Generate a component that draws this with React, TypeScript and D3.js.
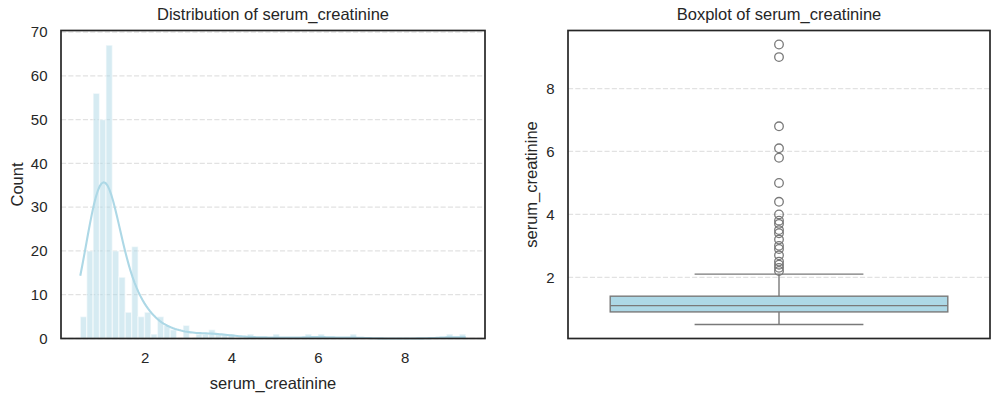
import React from 'react';
import * as d3 from 'd3';

// serum_creatinine observations (value, how many times it occurs)
const creatinineValues = [0.5, 0.6, 0.7, 0.75, 0.8, 0.9, 1.0, 1.1, 1.18, 1.2, 1.3, 1.4, 1.5, 1.6, 1.7, 1.8, 1.83, 1.9,
  2.0, 2.1, 2.2, 2.3, 2.4, 2.5, 2.7, 2.9, 3.0, 3.2, 3.4, 3.5, 3.7, 3.8, 4.0, 4.4, 5.0, 5.8, 6.1, 6.8, 9.0, 9.4];
const creatinineCounts = [1, 4, 19, 1, 24, 32, 50, 32, 11, 24, 20, 9, 5, 6, 9, 8, 4, 5,
  3, 3, 1, 3, 2, 3, 2, 2, 1, 1, 1, 2, 1, 1, 1, 1, 1, 1, 1, 1, 1, 1];

const binCount = 60;
const histXTicks = [2, 4, 6, 8];
const histYTicks = [0, 10, 20, 30, 40, 50, 60, 70];
const boxYTicks = [2, 4, 6, 8];

const W = 1000, H = 396;
const top = 30.5, bottom = 338.5;
const left1 = 61, right1 = 485;
const left2 = 568, right2 = 990;
const ink = '#262626';
const font = '"Liberation Sans", Arial, sans-serif';
const blue = '#add8e6';
const gray = '#797979';
const gridColor = '#e2e2e2';

export default function App() {
  const obs = creatinineValues.flatMap((v, i) => Array(creatinineCounts[i]).fill(v)).sort(d3.ascending);
  const n = obs.length;
  const [vmin, vmax] = d3.extent(obs) as [number, number];
  const pad = (vmax - vmin) * 0.05;
  const binW = (vmax - vmin) / binCount;

  // histogram bins (numpy style, last bin closed)
  const bins = d3.range(binCount).map(i => ({ x0: vmin + i * binW, x1: vmin + (i + 1) * binW, count: 0 }));
  obs.forEach(v => {
    const i = Math.min(binCount - 1, Math.floor((v - vmin) / binW + 1e-9));
    bins[i].count += 1;
  });
  const maxCount = d3.max(bins, b => b.count) as number;

  const x1 = d3.scaleLinear().domain([vmin - pad, vmax + pad]).range([left1, right1]);
  const y1 = d3.scaleLinear().domain([0, maxCount * 1.05]).range([bottom, top]);

  // gaussian kde, scott bandwidth, scaled to counts
  const sd = d3.deviation(obs) as number;
  const bw = sd * Math.pow(n, -0.2);
  const grid = d3.range(200).map(i => vmin + (vmax - vmin) * i / 199);
  const kde = grid.map(x => {
    let s = 0;
    creatinineValues.forEach((v, i) => {
      const z = (x - v) / bw;
      s += creatinineCounts[i] * Math.exp(-0.5 * z * z);
    });
    return [x, s / (n * bw * Math.sqrt(2 * Math.PI)) * n * binW] as [number, number];
  });
  const kdeLine = d3.line<[number, number]>().x(d => x1(d[0])).y(d => y1(d[1]));

  // box stats
  const q1 = d3.quantile(obs, 0.25) as number;
  const med = d3.quantile(obs, 0.5) as number;
  const q3 = d3.quantile(obs, 0.75) as number;
  const iqr = q3 - q1;
  const wLo = d3.min(obs.filter(v => v >= q1 - 1.5 * iqr)) as number;
  const wHi = d3.max(obs.filter(v => v <= q3 + 1.5 * iqr)) as number;
  const fliers = creatinineValues.filter(v => v < wLo || v > wHi);

  const x2 = d3.scaleLinear().domain([-0.5, 0.5]).range([left2, right2]);
  const y2 = d3.scaleLinear().domain([vmin - pad, vmax + pad]).range([bottom, top]);

  return (
    <svg width={W} height={H} style={{ position: 'absolute', left: 0, top: 0, background: '#fff' }}
      fontFamily={font} fill={ink}>
      {/* ---- histogram ---- */}
      {histYTicks.map(t => (
        <line key={'g' + t} x1={left1} x2={right1} y1={y1(t)} y2={y1(t)} stroke={gridColor}
          strokeWidth={1.3} strokeDasharray="5.1,2.2" />
      ))}
      {bins.filter(b => b.count > 0).map((b, i) => (
        <rect key={i} x={x1(b.x0)} width={x1(b.x1) - x1(b.x0)} y={y1(b.count)} height={y1(0) - y1(b.count)}
          fill={blue} fillOpacity={0.5} stroke="#fff" strokeOpacity={0.5} strokeWidth={1.4} />
      ))}
      <path d={kdeLine(kde) as string} fill="none" stroke={blue} strokeWidth={2.1} />
      <rect x={left1} y={top} width={right1 - left1} height={bottom - top} fill="none" stroke={ink} strokeWidth={1.7} />
      {histYTicks.map(t => (
        <text key={'y' + t} x={left1 - 13.5} y={y1(t)} dy="0.35em" textAnchor="end" fontSize={15}>{t}</text>
      ))}
      {histXTicks.map(t => (
        <text key={'x' + t} x={x1(t)} y={363} textAnchor="middle" fontSize={15}>{t}</text>
      ))}
      <text x={(left1 + right1) / 2} y={20} textAnchor="middle" fontSize={16.5}>Distribution of serum_creatinine</text>
      <text x={(left1 + right1) / 2} y={389} textAnchor="middle" fontSize={16.5}>serum_creatinine</text>
      <text transform={`translate(23,${(top + bottom) / 2}) rotate(-90)`} textAnchor="middle" fontSize={16.5}>Count</text>

      {/* ---- boxplot ---- */}
      {boxYTicks.map(t => (
        <line key={'bg' + t} x1={left2} x2={right2} y1={y2(t)} y2={y2(t)} stroke={gridColor}
          strokeWidth={1.3} strokeDasharray="5.1,2.2" />
      ))}
      <line x1={x2(0)} x2={x2(0)} y1={y2(q3)} y2={y2(wHi)} stroke={gray} strokeWidth={1.4} />
      <line x1={x2(0)} x2={x2(0)} y1={y2(q1)} y2={y2(wLo)} stroke={gray} strokeWidth={1.4} />
      <line x1={x2(-0.2)} x2={x2(0.2)} y1={y2(wHi)} y2={y2(wHi)} stroke={gray} strokeWidth={1.4} />
      <line x1={x2(-0.2)} x2={x2(0.2)} y1={y2(wLo)} y2={y2(wLo)} stroke={gray} strokeWidth={1.4} />
      <rect x={x2(-0.4)} width={x2(0.4) - x2(-0.4)} y={y2(q3)} height={y2(q1) - y2(q3)}
        fill={blue} stroke={gray} strokeWidth={1.4} />
      <line x1={x2(-0.4)} x2={x2(0.4)} y1={y2(med)} y2={y2(med)} stroke={gray} strokeWidth={1.4} />
      {fliers.map(v => (
        <circle key={v} cx={x2(0)} cy={y2(v)} r={4.3} fill="none" stroke={gray} strokeWidth={1.3} />
      ))}
      <rect x={left2} y={top} width={right2 - left2} height={bottom - top} fill="none" stroke={ink} strokeWidth={1.7} />
      {boxYTicks.map(t => (
        <text key={'by' + t} x={left2 - 13.5} y={y2(t)} dy="0.35em" textAnchor="end" fontSize={15}>{t}</text>
      ))}
      <text x={(left2 + right2) / 2} y={20} textAnchor="middle" fontSize={16.5}>Boxplot of serum_creatinine</text>
      <text transform={`translate(537,${(top + bottom) / 2}) rotate(-90)`} textAnchor="middle" fontSize={16.5}>serum_creatinine</text>
    </svg>
  );
}
